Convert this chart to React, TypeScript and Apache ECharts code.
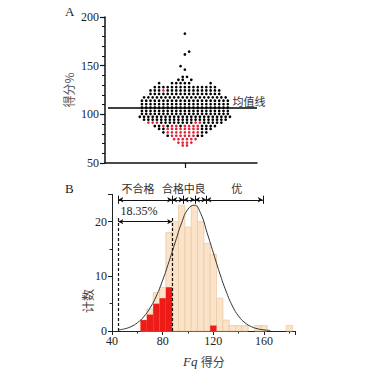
import React, { useEffect, useRef } from "react";
import * as echarts from "echarts";

// ---------- Panel A: dot plot (rows of dots, k = black, r = red, _ = gap) ----------
const rowValues = [183, 164.5, 161.5, 149.5, 146, 138.5, 135.5, 132, 128, 124.5, 121, 117.5, 114, 110.5, 107, 103.5, 100.5, 97.5, 94.5, 91.5, 88, 85, 81.5, 78, 74.5, 71, 68];
const rowPatterns = [
  "k",
  "__k",
  "k",
  "k__",
  "k",
  "kk",
  "kk_k",
  "k__kkkkk____k",
  "kkkkkkkkkkkkkkk",
  "kkkrkkkkkkkkkkkkk",
  "kkkkkkkkkkkkkkkkk",
  "kkkkkkkkkkkkkkkkkkkk",
  "kkkkkkkkkkkkkkkkkkkkk",
  "kkkkkkkkkkkkkkkkkkkkk",
  "kkkkkkkkkkkkkkkkkkkkk",
  "kkkkkkkkkkkkkkkkkkkkk",
  "kkkkkkkkkkkkkkkkkkkkk",
  "kkkkkkkkkkkkkkkkkkkkkk",
  "kkkkkkkkkkkkkkkkkkkk",
  "rrrkkkkkkkkrrkkkkk",
  "kkrkrrkrrrrkkkk",
  "kkrrrrrrrrkkk",
  "krrrrrrrrkk",
  "krrrrrrkk",
  "rrrrrr",
  "rrrr",
  "rr",
];
const meanValue = 106.5;
const yTicksA = { min: 50, max: 200, interval: 50 };

// ---------- Panel B: histogram ----------
const binStarts = [62.5, 67.5, 72.5, 77.5, 82.5, 87.5, 92.5, 97.5, 102.5, 107.5, 112.5, 117.5, 122.5, 127.5, 132.5, 137.5, 142.5, 147.5, 152.5, 157.5, 162.5, 167.5, 172.5, 177.5];
const totalCounts = [2, 4, 7, 8, 18, 20, 23, 19, 23, 20, 16, 14, 6, 2, 1, 1, 1, 0, 1, 1, 0, 0, 0, 1];
const redCounts = [2, 3, 5, 6, 8, 0, 0, 0, 0, 0, 0, 1, 0, 0, 0, 0, 0, 0, 0, 0, 0, 0, 0, 0];
const binWidth = 5;

const curveX = [45, 50, 55, 60, 65, 70, 75, 80, 85, 90, 95, 100, 105, 110, 115, 120, 125, 130, 135, 140, 145, 150, 155, 160, 165];
const curveY = [0.2, 0.4, 0.8, 1.5, 2.6, 4.2, 6.4, 9.3, 12.7, 16.3, 19.8, 22.3, 23.0, 21.5, 18.0, 14.3, 10.6, 7.3, 4.6, 2.7, 1.5, 0.8, 0.4, 0.2, 0.1];

const gradeBounds = [45, 87.5, 96.5, 105.5, 114.5, 159];
const gradeNames = ["不合格", "合格", "中", "良", "优"];
const gradeLabelX = [60.5, 88.1, 101, 109.5, 138.4];
const failBounds = [45, 87.5];
const failText = "18.35%";

const SERIF = '"Liberation Serif", "DejaVu Serif", serif';
const CJK = '"Noto Sans CJK SC", "Noto Sans", sans-serif';

function buildDots(c: string) {
  const out: number[][] = [];
  rowPatterns.forEach((p, i) => {
    const n = p.length;
    for (let j = 0; j < n; j++) if (p[j] === c) out.push([j - (n - 1) / 2, rowValues[i]]);
  });
  return out;
}

export default function App() {
  const ref = useRef<HTMLDivElement>(null);
  useEffect(() => {
    if (!ref.current) return;
    const chart = echarts.init(ref.current, null, { renderer: "svg" });

    const barRender = (fill: string, stroke: string) => (params: any, api: any) => {
      const x0 = api.value(0), x1 = api.value(1), c = api.value(2);
      if (!c) return null;
      const p0 = api.coord([x0, c]);
      const p1 = api.coord([x1, 0]);
      return {
        type: "rect",
        shape: { x: p0[0], y: p0[1], width: p1[0] - p0[0], height: p1[1] - p0[1] },
        style: { fill, stroke, lineWidth: stroke === "none" ? 0 : 0.8 },
      };
    };

    const arrowY = 24;
    const arrowLines: any[] = [];
    for (let i = 0; i < gradeBounds.length - 1; i++) {
      arrowLines.push([
        { coord: [gradeBounds[i], arrowY], symbol: "arrow", symbolSize: [4, 5] },
        { coord: [gradeBounds[i + 1], arrowY], symbol: "arrow", symbolSize: [4, 5] },
      ]);
    }
    gradeBounds.forEach((b) => {
      arrowLines.push([
        { coord: [b, arrowY - 0.75], symbol: "none" },
        { coord: [b, arrowY + 0.75], symbol: "none" },
      ]);
    });
    arrowLines.push([
      { coord: [failBounds[0], 20], symbol: "arrow", symbolSize: [4, 5] },
      { coord: [failBounds[1], 20], symbol: "arrow", symbolSize: [4, 5] },
    ]);
    failBounds.forEach((b) => {
      arrowLines.push([
        { coord: [b, 0], symbol: "none", lineStyle: { type: [3, 2], width: 1.2 } },
        { coord: [b, 20.7], symbol: "none" },
      ]);
    });

    const axisLabelSerif = { fontFamily: SERIF, fontSize: 12, color: "#222" };

    chart.setOption({
      animation: false,
      backgroundColor: "#fff",
      grid: [
        { left: 105, top: 17, width: 152, height: 146 },
        { left: 112, top: 194.3, width: 183.7, height: 139 },
      ],
      xAxis: [
        {
          type: "value", gridIndex: 0, min: -18.6, max: 16.8,
          axisLine: { onZero: false, lineStyle: { color: "#111", width: 1.5 } },
          axisTick: { show: true, customValues: [0], length: 5, lineStyle: { color: "#111", width: 1.2 } },
          axisLabel: { show: false },
          splitLine: { show: false },
        },
        {
          type: "value", gridIndex: 1, min: 40, max: 185, interval: 40,
          axisLine: { onZero: false, lineStyle: { color: "#222", width: 1 } },
          axisTick: { length: 4, lineStyle: { color: "#222" } },
          minorTick: { show: true, splitNumber: 2, length: 2.5, lineStyle: { color: "#222" } },
          axisLabel: { ...axisLabelSerif, margin: 4, showMaxLabel: false },
          splitLine: { show: false },
          name: "{i|Fq} {c|得分}",
          nameLocation: "middle",
          nameGap: 24,
          nameTextStyle: {
            rich: {
              i: { fontFamily: SERIF, fontStyle: "italic", fontSize: 13, color: "#333" },
              c: { fontFamily: CJK, fontSize: 12, color: "#444" },
            },
          },
        },
      ],
      yAxis: [
        {
          type: "value", gridIndex: 0, ...yTicksA,
          axisLine: { show: true, onZero: false, lineStyle: { color: "#111", width: 1.5 } },
          axisTick: { show: true, length: 5, lineStyle: { color: "#111", width: 1.2 } },
          minorTick: { show: true, splitNumber: 5, length: 3, lineStyle: { color: "#111" } },
          axisLabel: { ...axisLabelSerif, margin: 6 },
          splitLine: { show: false },
          name: "得分%",
          nameLocation: "middle",
          nameGap: 31,
          nameRotate: 90,
          nameTextStyle: { fontFamily: CJK, fontSize: 12, color: "#555" },
        },
        {
          type: "value", gridIndex: 1, min: 0, max: 25, interval: 10,
          axisLine: { show: true, onZero: false, lineStyle: { color: "#222", width: 1 } },
          axisTick: { show: true, length: 4, lineStyle: { color: "#222" } },
          minorTick: { show: true, splitNumber: 2, length: 2.5, lineStyle: { color: "#222" } },
          axisLabel: { ...axisLabelSerif, margin: 5, showMaxLabel: false },
          splitLine: { show: false },
        },
      ],
      series: [
        {
          type: "scatter", xAxisIndex: 0, yAxisIndex: 0, symbolSize: 2.7,
          itemStyle: { color: "#000", opacity: 1 }, data: buildDots("k"), silent: true,
          markLine: {
            silent: true, symbol: "none", label: { show: false },
            lineStyle: { color: "#000", width: 1.5, type: "solid" },
            data: [[{ coord: [-17.9, meanValue] }, { coord: [16.8, meanValue] }]],
          },
        },
        {
          type: "scatter", xAxisIndex: 0, yAxisIndex: 0, symbolSize: 2.7,
          itemStyle: { color: "#e3273a", opacity: 1 }, data: buildDots("r"), silent: true,
        },
        {
          type: "custom", xAxisIndex: 1, yAxisIndex: 1,
          renderItem: barRender("#fae3c8", "#ebcba6"),
          encode: { x: [0, 1], y: 2 },
          data: binStarts.map((s, i) => [s, s + binWidth, totalCounts[i]]),
          silent: true,
        },
        {
          type: "custom", xAxisIndex: 1, yAxisIndex: 1,
          renderItem: barRender("#ee1c18", "none"),
          encode: { x: [0, 1], y: 2 },
          data: binStarts.map((s, i) => [s, s + binWidth, redCounts[i]]),
          silent: true,
        },
        {
          type: "line", xAxisIndex: 1, yAxisIndex: 1, smooth: true, showSymbol: false,
          lineStyle: { color: "#333", width: 1 },
          data: curveX.map((x, i) => [x, curveY[i]]),
          silent: true,
          markLine: {
            silent: true, symbol: "none", label: { show: false },
            lineStyle: { color: "#111", width: 1, type: "solid" },
            data: arrowLines,
          },
        },
      ],
    });

    const px = (g: number, pt: number[]) => chart.convertToPixel({ gridIndex: g } as any, pt) as number[];
    const graphics: any[] = [];
    graphics.push({ type: "text", x: 65, y: 5, style: { text: "A", font: `13px ${SERIF}`, fill: "#222" } });
    graphics.push({ type: "text", x: 65, y: 182, style: { text: "B", font: `13px ${SERIF}`, fill: "#222" } });
    const mp = px(0, [11.1, 113.7]);
    graphics.push({ type: "text", x: mp[0], y: mp[1], style: { text: "均值线", font: `11px ${CJK}`, fill: "#333", textAlign: "left", textVerticalAlign: "middle" } });
    gradeNames.forEach((n, i) => {
      const p = px(1, [gradeLabelX[i], 26.1]);
      graphics.push({ type: "text", x: p[0], y: p[1], style: { text: n, font: `11px ${CJK}`, fill: "#333", textAlign: "center", textVerticalAlign: "middle" } });
    });
    const fp = px(1, [61.3, 21.9]);
    graphics.push({ type: "text", x: fp[0], y: fp[1], style: { text: failText, font: `12px ${SERIF}`, fill: "#222", textAlign: "center", textVerticalAlign: "middle" } });
    graphics.push({ type: "text", x: 87, y: 301, rotation: Math.PI / 2, style: { text: "计数", font: `12px ${CJK}`, fill: "#444", textAlign: "center", textVerticalAlign: "middle" } });
    chart.setOption({ graphic: graphics });

    return () => chart.dispose();
  }, []);
  return <div ref={ref} style={{ position: "fixed", left: 0, top: 0, width: 369, height: 369, background: "#fff" }} />;
}
